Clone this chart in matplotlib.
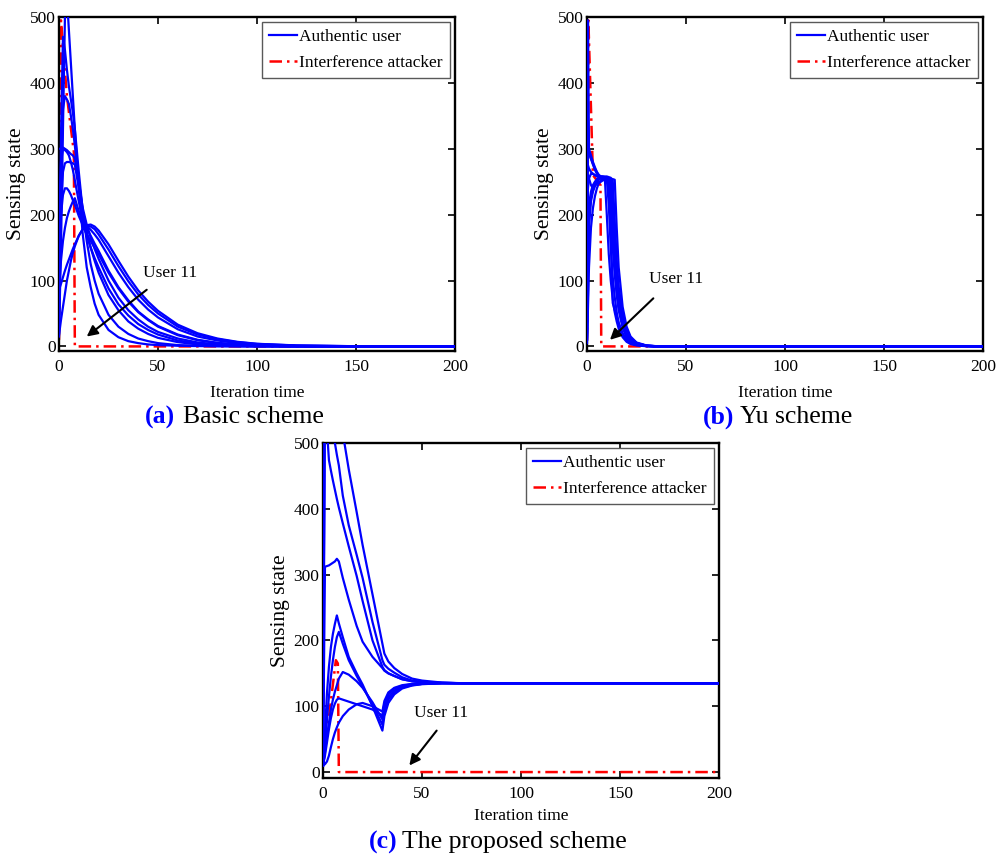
import matplotlib
matplotlib.use("Agg")
import matplotlib.pyplot as plt

plt.rcParams['font.family'] = ['Liberation Serif', 'DejaVu Serif']

# ---------------- data: (a) Basic scheme ----------------
a_t = [0, 1, 2, 3, 4, 5, 6, 7, 8, 10, 12, 14, 16, 18, 20, 25, 30, 35, 40, 45, 50, 60, 70, 80, 90, 100, 120, 150, 200]
a_u1 = [15, 150, 330, 500, 530, 480, 430, 380, 330, 240, 170, 120, 90, 65, 48, 25, 14, 8, 5, 3, 2, 1, 0.5, 0.2, 0.1, 0, 0, 0, 0]
a_u2 = [20, 320, 470, 450, 420, 395, 375, 355, 330, 265, 205, 160, 125, 100, 80, 48, 30, 19, 12, 8, 5, 2, 1, 0.5, 0.2, 0.1, 0, 0, 0]
a_u3 = [30, 250, 360, 380, 375, 368, 350, 330, 305, 250, 205, 175, 150, 130, 112, 78, 55, 38, 27, 19, 13, 6.5, 3, 1.5, 0.7, 0.3, 0.1, 0, 0]
a_u4 = [300, 300, 302, 300, 298, 295, 292, 290, 285, 250, 210, 185, 165, 148, 133, 100, 74, 55, 41, 30, 22, 12, 6, 3, 1.5, 0.8, 0.2, 0, 0]
a_u5 = [60, 200, 265, 278, 280, 280, 279, 278, 276, 240, 205, 180, 168, 156, 145, 115, 90, 70, 53, 41, 31, 18, 10, 5.5, 3, 1.6, 0.5, 0.1, 0]
a_u6 = [90, 130, 160, 180, 195, 205, 213, 220, 225, 205, 190, 183, 177, 170, 162, 137, 112, 90, 71, 56, 44, 26, 15, 9, 5, 3, 1, 0.2, 0]
a_u7 = [86, 95, 105, 115, 124, 132, 140, 148, 155, 168, 178, 184, 185, 182, 176, 155, 130, 106, 85, 68, 54, 33, 20, 12, 7, 4, 1.5, 0.3, 0]
a_u8 = [17, 40, 60, 80, 100, 115, 130, 142, 152, 168, 178, 183, 182, 178, 170, 147, 122, 99, 79, 63, 50, 30, 18, 11, 6.5, 3.8, 1.3, 0.3, 0]
a_u9 = [150, 200, 230, 240, 240, 236, 230, 222, 215, 198, 184, 170, 160, 150, 140, 112, 88, 68, 52, 40, 30, 17, 9.5, 5, 2.8, 1.5, 0.4, 0.1, 0]
a_u10 = [200, 280, 300, 298, 295, 290, 280, 268, 252, 220, 190, 168, 150, 134, 120, 88, 64, 47, 34, 25, 18, 9, 4.5, 2.2, 1.1, 0.5, 0.1, 0, 0]
a_red_t = [0, 1, 4, 7.5, 8, 200]
a_red = [10, 495, 380, 295, 0, 0]

# ---------------- data: (b) Yu scheme ----------------
b_t = [0, 0.5, 1, 2, 3, 4, 5, 6, 7, 8, 9, 10, 11, 12, 13, 14, 15, 16, 18, 20, 22, 25, 30, 35, 40, 50, 200]
b_v1 = [10, 495, 300, 290, 280, 272, 265, 260, 258, 258, 258, 258, 257, 256, 200, 140, 95, 65, 35, 18, 10, 4, 1, 0.3, 0, 0, 0]
b_v2 = [10, 340, 295, 285, 276, 268, 262, 258, 257, 257, 256, 255, 250, 200, 150, 110, 78, 55, 28, 14, 7, 3, 0.7, 0, 0, 0, 0]
b_v3 = [290, 295, 292, 285, 278, 270, 264, 260, 258, 258, 257, 256, 255, 254, 230, 170, 120, 85, 45, 24, 12, 5, 1, 0.3, 0, 0, 0]
b_v4 = [10, 120, 200, 225, 238, 246, 252, 255, 257, 257, 256, 254, 215, 150, 105, 75, 52, 36, 18, 9, 5, 2, 0.5, 0, 0, 0, 0]
b_v5 = [20, 150, 215, 235, 245, 250, 254, 256, 256, 256, 255, 255, 254, 253, 252, 190, 130, 90, 48, 25, 13, 5, 1, 0.3, 0, 0, 0]
b_v6 = [200, 240, 255, 262, 262, 260, 258, 257, 257, 256, 256, 200, 140, 100, 72, 52, 38, 27, 14, 7, 3.5, 1.5, 0.3, 0, 0, 0, 0]
b_v7 = [15, 80, 180, 220, 235, 243, 249, 253, 255, 256, 255, 254, 253, 170, 66, 55, 45, 35, 20, 11, 6, 2.5, 0.6, 0, 0, 0, 0]
b_v8 = [270, 275, 270, 265, 262, 260, 259, 258, 258, 257, 257, 256, 255, 255, 254, 253, 180, 120, 60, 30, 15, 6, 1.5, 0.4, 0, 0, 0]
b_v9 = [250, 260, 255, 245, 240, 244, 247, 248, 250, 252, 253, 253, 252, 240, 170, 120, 85, 60, 32, 17, 9, 3.5, 0.8, 0, 0, 0, 0]
b_v10 = [5, 60, 120, 180, 210, 228, 240, 248, 252, 254, 255, 255, 254, 252, 200, 140, 100, 72, 40, 22, 12, 5, 1.2, 0.3, 0, 0, 0]
b_red_t = [0, 0.7, 3, 6.8, 7.2, 200]
b_red = [10, 495, 260, 245, 0, 0]

# ---------------- data: (c) The proposed scheme ----------------
c_t = [0, 1, 2, 3, 4, 5, 6, 7, 8, 10, 13, 17, 20, 25, 30, 31, 33, 36, 40, 45, 50, 60, 70, 200]
c_w1 = [10, 600, 520, 474, 458, 443, 429, 415, 402, 378, 343, 298, 260, 200, 160, 155, 150, 146, 141, 138, 136.5, 135.5, 135, 135]
c_w2 = [10, 650, 610, 580, 550, 525, 500, 482, 466, 420, 375, 330, 295, 228, 170, 163, 157, 151, 144, 139, 137, 135.5, 135, 135]
c_w3 = [10, 700, 680, 660, 640, 620, 600, 580, 560, 515, 460, 395, 345, 270, 195, 180, 168, 158, 149, 142, 139, 136, 135, 135]
c_w4 = [10, 312, 313, 314, 316, 318, 320, 324, 320, 295, 262, 222, 198, 175, 158, 154, 150, 146, 141, 138, 136.5, 135.5, 135, 135]
c_w5 = [10, 60, 120, 160, 190, 210, 225, 238, 226, 205, 175, 150, 133, 100, 63, 85, 105, 118, 127, 131.5, 133.5, 135, 135, 135]
c_w6 = [10, 40, 80, 115, 145, 170, 190, 205, 213, 195, 170, 146, 130, 102, 72, 92, 110, 121, 128.5, 132, 134, 135, 135, 135]
c_w7 = [10, 30, 55, 75, 95, 110, 122, 132, 142, 152, 148, 138, 128, 106, 80, 98, 114, 124, 129.5, 132.5, 134, 135, 135, 135]
c_w8 = [10, 25, 45, 65, 82, 95, 104, 110, 112, 110, 107, 103, 100, 95, 86, 104, 118, 127, 131, 133.5, 134.5, 135, 135, 135]
c_w9 = [10, 12, 16, 25, 38, 50, 60, 68, 75, 85, 95, 103, 105, 100, 92, 108, 121, 128, 132, 134, 135, 135, 135, 135]
c_red_t = [0, 6.5, 7.5, 8, 200]
c_red = [10, 170, 165, 0, 0]

x_ticks = [0, 50, 100, 150, 200]
y_ticks = [0, 100, 200, 300, 400, 500]
legend_labels = ['Authentic user', 'Interference attacker']

BLUE = '#0000ff'
RED = '#ff0000'

fig = plt.figure(figsize=(10, 8.57), dpi=100)

ax_a = fig.add_axes([0.059, 0.5904, 0.396, 0.3897])
ax_b = fig.add_axes([0.587, 0.5904, 0.396, 0.3897])
ax_c = fig.add_axes([0.323, 0.0922, 0.396, 0.3909])


def draw(ax, t, curves, red_t, red, ylo, label_y, ann):
    for i, c in enumerate(curves):
        ax.plot(t, c, color=BLUE, lw=1.6, zorder=3,
                label=legend_labels[0] if i == 0 else None)
    ax.plot(red_t, red, color=RED, lw=1.8, linestyle=(0, (5, 2, 1, 2)),
            zorder=2, label=legend_labels[1])
    ax.set_xlim(0, 200)
    ax.set_ylim(ylo, 500)
    ax.set_xticks(x_ticks)
    ax.set_yticks(y_ticks)
    ax.tick_params(direction='in', top=True, right=True, length=5, width=1.2,
                   labelsize=12.5)
    ax.tick_params(axis='x', pad=6)
    ax.tick_params(axis='y', pad=2.5)
    for s in ax.spines.values():
        s.set_linewidth(1.7)
    ax.set_xlabel('Iteration time', fontsize=12.5)
    ax.set_ylabel('Sensing state', fontsize=15.5)
    ax.xaxis.set_label_coords(0.5, label_y)
    ax.yaxis.set_label_coords(-0.083, 0.5)
    leg = ax.legend(loc='upper right', fontsize=12.5, frameon=True, fancybox=False,
                    edgecolor='0.35', framealpha=1, borderpad=0.4,
                    handlelength=1.6, handletextpad=0.15, labelspacing=0.55,
                    borderaxespad=0.3)
    leg.get_frame().set_linewidth(1.0)
    (tx, ty), (px, py), (hx, hy) = ann
    ax.text(tx, ty, 'User 11', fontsize=12.5, ha='center', va='center', zorder=5)
    ax.annotate('', xy=(hx, hy), xytext=(px, py), zorder=5,
                arrowprops=dict(arrowstyle='-|>', color='k', lw=1.5,
                                mutation_scale=16, shrinkA=0, shrinkB=0))


draw(ax_a, a_t, [a_u1, a_u2, a_u3, a_u4, a_u5, a_u6, a_u7, a_u8, a_u9, a_u10],
     a_red_t, a_red, -7, -0.102,
     ((56, 112), (44.3, 86), (14, 15)))
draw(ax_b, b_t, [b_v1, b_v2, b_v3, b_v4, b_v5, b_v6, b_v7, b_v8, b_v9, b_v10],
     b_red_t, b_red, -7, -0.102,
     ((45.2, 102), (33.5, 73), (11.6, 10)))
draw(ax_c, c_t, [c_w1, c_w2, c_w3, c_w4, c_w5, c_w6, c_w7, c_w8, c_w9],
     c_red_t, c_red, -9, -0.09,
     ((59.5, 89), (57.4, 63), (43.6, 10)))

captions = [('(a)', 'Basic scheme', 0.175, 0.183, 1 - 417 / 857),
            ('(b)', 'Yu scheme', 0.734, 0.740, 1 - 417 / 857),
            ('(c)', 'The proposed scheme', 0.397, 0.402, 1 - 842 / 857)]
for tag, txt, xr, xl, yy in captions:
    fig.text(xr, yy, tag, color=BLUE, fontweight='bold', fontsize=18.5,
             ha='right', va='center')
    fig.text(xl, yy, txt, color='black', fontsize=18.5, ha='left', va='center')

fig.savefig('out.png', dpi=100)
